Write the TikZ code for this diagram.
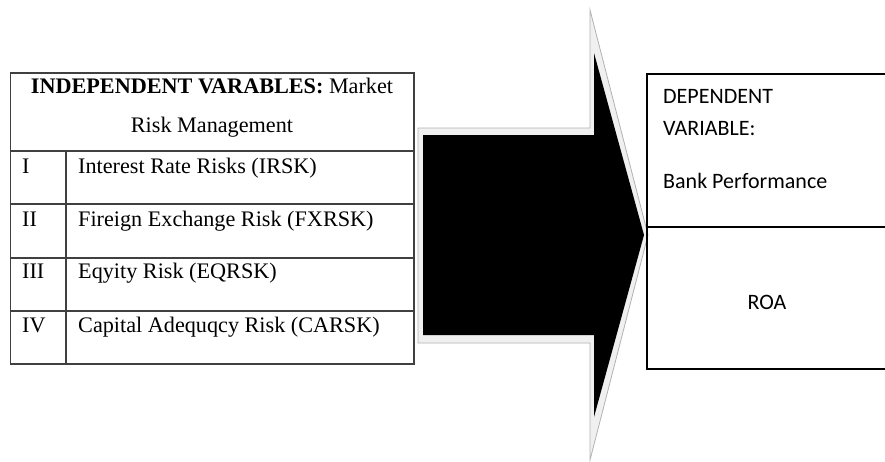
\documentclass[tikz,border=0pt]{standalone}
\usepackage{fontspec}
\setmainfont{Liberation Serif}
\newfontfamily\calibri{Carlito}
\begin{document}
\begin{tikzpicture}[x=1pt,y=-1pt,
  tline/.style={draw=black!75,line width=1.2pt},
  rline/.style={draw=black,line width=1.4pt},
  ttext/.style={anchor=base west,inner sep=0pt,font=\fontsize{22.2}{26}\selectfont},
  ctext/.style={anchor=base west,inner sep=0pt,font=\calibri\fontsize{22}{26}\selectfont}]
\useasboundingbox (0,0) rectangle (885,461);
% left table
\draw[tline] (10.5,73) rectangle (414,364);
\draw[tline] (10.5,151) -- (414,151);
\draw[tline] (10.5,204) -- (414,204);
\draw[tline] (10.5,258) -- (414,258);
\draw[tline] (10.5,311) -- (414,311);
\draw[tline] (66,151) -- (66,364);
\node[anchor=base,inner sep=0pt,font=\fontsize{22.2}{26}\selectfont] (h1) at (212,93) {\textbf{INDEPENDENT VARABLES:} Market};
\node[anchor=base,inner sep=0pt,font=\fontsize{22.2}{26}\selectfont] (h2) at (212,132) {Risk Management};
\node[ttext] (n1) at (22,173) {I};
\node[ttext] (n2) at (22,226) {II};
\node[ttext] (n3) at (22,278) {III};
\node[ttext] (n4) at (22,332) {IV};
\node[ttext] (r1) at (78,173) {Interest Rate Risks (IRSK)};
\node[ttext] (r2) at (78,226) {Fireign Exchange Risk (FXRSK)};
\node[ttext] (r3) at (78,278) {Eqyity Risk (EQRSK)};
\node[ttext] (r4) at (78,332) {Capital Adequqcy Risk (CARSK)};
% arrow
\fill[black!6,draw=black!30,line width=0.8pt] (418,128) -- (590,128) -- (590,10) -- (648,235) -- (590,460) -- (590,343) -- (418,343) -- cycle;
\fill[black] (423,135) -- (594,135) -- (594,53) -- (644,235) -- (594,417) -- (594,335) -- (423,335) -- cycle;
% right box
\draw[rline] (886,74) -- (647,74) -- (647,369) -- (886,369);
\draw[rline] (647,227) -- (886,227);
\node[ctext] (d1) at (663,103) {DEPENDENT};
\node[ctext] (d2) at (663,135) {VARIABLE:};
\node[ctext] (d3) at (663,188) {Bank Performance};
\node[anchor=base,inner sep=0pt,font=\calibri\fontsize{22}{26}\selectfont] (roa) at (767,309) {ROA};
\end{tikzpicture}
\end{document}
